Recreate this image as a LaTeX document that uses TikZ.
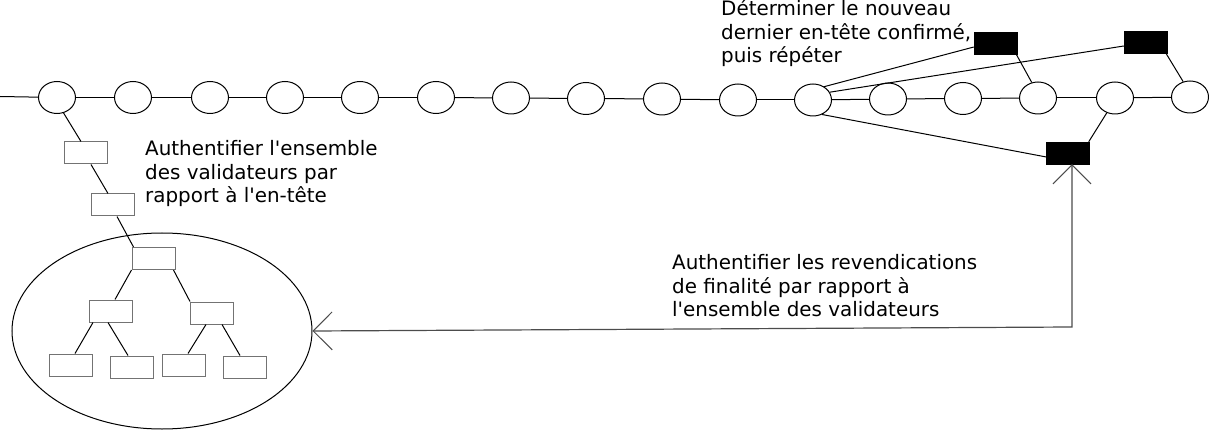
\documentclass[tikz,border=0pt]{standalone}
\usepackage{fontspec}
\setmainfont{DejaVu Sans}
\usetikzlibrary{arrows.meta,shapes.geometric}
\newcommand{\apo}{\textquotesingle}
\begin{document}
\begin{tikzpicture}[x=1pt,y=-1pt,
  blk/.style={draw=black,line width=1pt,ellipse,minimum width=37pt,minimum height=32pt,inner sep=0},
  hdr/.style={draw=black!55,line width=1pt,rectangle,minimum width=43pt,minimum height=22pt,inner sep=0},
  fin/.style={draw=black,fill=black,rectangle,minimum width=43pt,minimum height=22pt,inner sep=0},
  link/.style={draw=black,line width=1pt},
  label/.style={align=left,anchor=base west,inner sep=0,font=\fontsize{19.9}{23.5}\selectfont},
  bar/.style={draw=black!70,line width=1.2pt,{Straight Barb[length=19pt,width=38pt,line width=1pt]}-{Straight Barb[length=19pt,width=38pt,line width=1pt]}}
]
\useasboundingbox (0,0) rectangle (1209,430);
% chain of blocks
\node[blk] (e1) at (57,97.5) {};
\node[blk] (e2) at (133,97.5) {};
\node[blk] (e3) at (210,97.5) {};
\node[blk] (e4) at (285,97.5) {};
\node[blk] (e5) at (360,97.5) {};
\node[blk] (e6) at (436,97.5) {};
\node[blk] (e7) at (511,98) {};
\node[blk] (e8) at (586,98.5) {};
\node[blk] (e9) at (662,99) {};
\node[blk] (e10) at (738,100) {};
\node[blk] (e11) at (813,100) {};
\node[blk] (e12) at (888,99) {};
\node[blk] (e13) at (963,98.5) {};
\node[blk] (e14) at (1038,98) {};
\node[blk] (e15) at (1115,98) {};
\node[blk] (e16) at (1190,97) {};
\coordinate (start) at (0,96.5);
\draw[link] (start) -- (e1);
\foreach \a/\b in {1/2,2/3,3/4,4/5,5/6,6/7,7/8,8/9,9/10,10/11,11/12,12/13,13/14,14/15,15/16}
  \draw[link] (e\a) -- (e\b);
% header chain down to the validator set
\node[hdr] (ha) at (85.5,153) {};
\node[hdr] (hb) at (113,205) {};
% validator-set ellipse with its tree
\node[draw=black,line width=1pt,ellipse,minimum width=300pt,minimum height=196pt,inner sep=0] (vset) at (162,331) {};
\node[hdr] (root) at (153.5,258.5) {};
\node[hdr] (l1) at (110.5,311) {};
\node[hdr] (r1) at (212,313) {};
\node[hdr] (ll) at (71,365) {};
\node[hdr] (lr) at (132,367) {};
\node[hdr] (rl) at (184,365) {};
\node[hdr] (rr) at (245,367) {};
\draw[link] (e1.-67) -- ([xshift=-4.5pt]ha.north);
\draw[link] ([xshift=5.5pt]ha.south) -- ([xshift=-5pt]hb.north);
\draw[link] ([xshift=4pt]hb.south) -- ([xshift=2pt]root.north west);
\draw[link] (root.south west) -- ([xshift=4.5pt]l1.north);
\draw[link] ([xshift=-2pt]root.south east) -- (r1.north west);
\draw[link] ([xshift=-17.5pt]l1.south) -- ([xshift=4pt]ll.north);
\draw[link] ([xshift=-2.5pt]l1.south) -- ([xshift=-4pt]lr.north);
\draw[link] ([xshift=-6pt]r1.south) -- ([xshift=4pt]rl.north);
\draw[link] ([xshift=10pt]r1.south) -- ([xshift=-5pt]rr.north);
% finality claims
\node[fin] (f1) at (995.5,43) {};
\node[fin] (f2) at (1145.5,42.5) {};
\node[fin] (f3) at (1068,153) {};
\draw[link] (e11.50) -- ([yshift=-4pt]f1.west);
\draw[link] (e11.25) -- ([yshift=-3.5pt]f2.west);
\draw[link] (e11.-58) -- ([yshift=-4pt]f3.west);
\draw[link] ([xshift=-1pt]f1.south east) -- (e14.112);
\draw[link] ([xshift=-1pt]f2.south east) -- (e16.114);
\draw[link] ([xshift=-1pt]f3.north east) -- (e15.-119);
% authentication arrow
\coordinate (corner) at (1072,327);
\draw[bar] (vset.east) -- (corner) -- (corner |- f3.south);
% labels
\node[label] (t1) at (145,203) {Authentifier l\apo ensemble\\des validateurs par\\rapport à l\apo en-tête};
\node[label] (t2) at (721,63) {Déterminer le nouveau\\dernier en-tête confirmé,\\puis répéter};
\node[label] (t3) at (672,316.5) {Authentifier les revendications\\de finalité par rapport à\\l\apo ensemble des validateurs};
\end{tikzpicture}
\end{document}
